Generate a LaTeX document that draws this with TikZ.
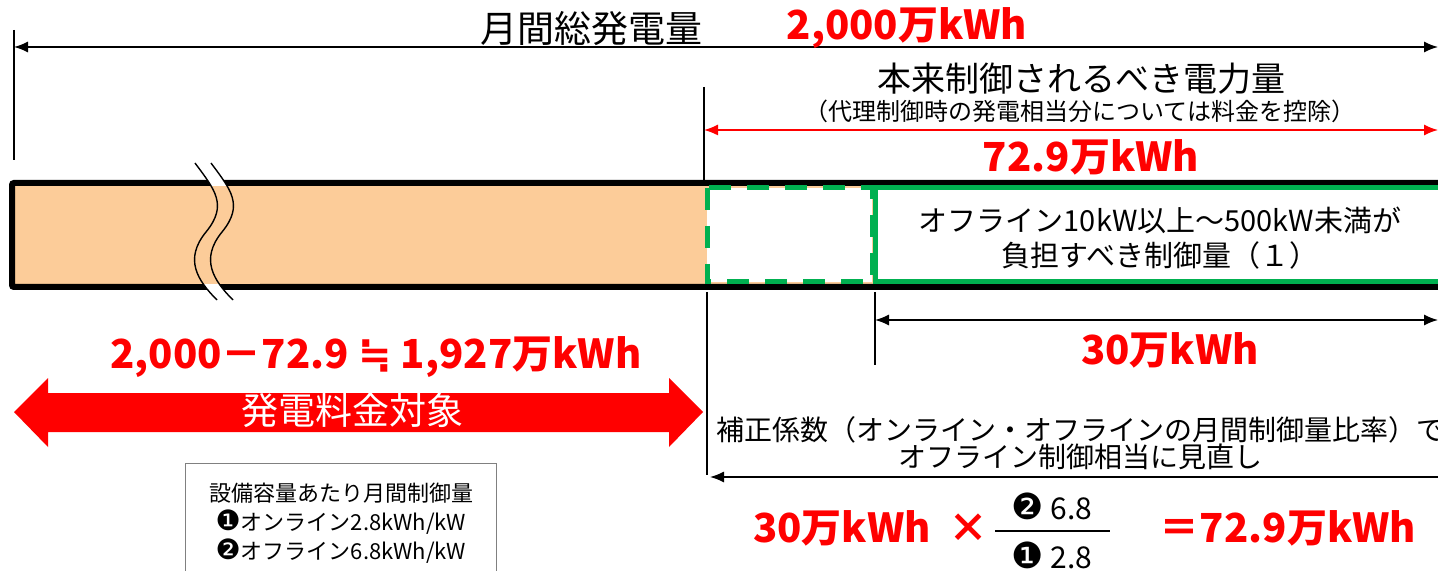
\documentclass[tikz,border=0pt]{standalone}
\usepackage{fontspec}
\setmainfont{Noto Sans CJK JP}
\newfontfamily\dingfont{DejaVu Sans}
\usetikzlibrary{arrows.meta}
\definecolor{peach}{RGB}{252,204,153}
\definecolor{offgreen}{RGB}{0,176,80}
\tikzset{
  dimline/.style={line width=0.7pt},
  tickline/.style={line width=0.6pt},
  redval/.style={text=red,inner sep=0pt,font=\fontsize{20}{24}\selectfont\bfseries},
  lbl/.style={inner sep=0pt},
}
\newcommand\circnum[2]{{\dingfont\fontsize{#1}{#1}\selectfont #2}}
\begin{document}
\begin{tikzpicture}[x=0.5pt,y=-0.5pt,>={Latex[length=7pt,width=5.5pt]}]
\useasboundingbox (0,0) rectangle (1438,571);
% bar with break
\fill[peach] (12,183) rectangle (1460,287);
\draw[line width=3pt,rounded corners=1pt] (1460,183) -- (12,183) -- (12,287) -- (1460,287);
\fill[white] (195,163) .. controls (215,190) and (228,205) .. (206,232)
  .. controls (184,259) and (197,280) .. (217,300) -- (233,300)
  .. controls (213,280) and (200,259) .. (222,232)
  .. controls (244,205) and (231,190) .. (211,163) -- cycle;
\fill[peach] (180,186) rectangle (260,284);
\draw[line width=0.7pt] (195,163) .. controls (215,190) and (228,205) .. (206,232)
  .. controls (184,259) and (197,280) .. (217,300);
\draw[line width=0.7pt] (211,163) .. controls (231,190) and (244,205) .. (222,232)
  .. controls (200,259) and (213,280) .. (233,300);
\draw[offgreen,line width=2.5pt,fill=white,dash pattern=on 11pt off 8pt] (707,188) rectangle (872,282);
\draw[offgreen,line width=2.5pt,fill=white] (875,188) rectangle (1470,282);
\node[lbl,align=center,font=\fontsize{14.5}{17.5}\selectfont] (offtxt) at (1160,238)
  {オフライン10kW以上～500kW未満が\\負担すべき制御量（１）};
% monthly total
\coordinate (totL) at (14,47);
\coordinate (totR) at (1438,47);
\draw[tickline] (14,30) -- (14,160);
\draw[dimline,<->] (totL) -- (totR);
\node[lbl,font=\fontsize{18.5}{20}\selectfont] (total) at (591,29) {月間総発電量};
\node[redval] (totval) at (907,28) {2,000万kWh};
% controlled amount
\coordinate (ctlL) at (704,130);
\coordinate (ctlR) at (1438,130);
\draw[tickline] (704,87) -- (704,180);
\draw[dimline,red,<->] (ctlL) -- (ctlR);
\node[lbl,font=\fontsize{17}{20}\selectfont] (ctl) at (1081,79) {本来制御されるべき電力量};
\node[lbl,font=\fontsize{12}{14}\selectfont] (ctlsub) at (1080,111) {（代理制御時の発電相当分については料金を控除）};
\node[redval] (ctlval) at (1091,157) {72.9万kWh};
% offline share
\coordinate (offL) at (875,320);
\coordinate (offR) at (1438,320);
\draw[tickline] (875,292) -- (875,365);
\draw[dimline,<->] (offL) -- (offR);
\node[redval] (offval) at (1170,350) {30万kWh};
% billed part
\node[redval] (billval) at (376,357) {2,000－72.9 {\dingfont\bfseries ≒} 1,927万kWh};
\fill[red] (14,412) -- (48,378) -- (48,393) -- (669,393) -- (669,378) -- (703,412)
  -- (669,447) -- (669,432) -- (48,432) -- (48,447) -- cycle;
\node[lbl,text=white,font=\fontsize{18.5}{20}\selectfont] (bill) at (352,410) {発電料金対象};
\node[draw=gray,line width=0.6pt,anchor=north,minimum width=155.5pt,minimum height=60pt,
  align=center,font=\fontsize{11}{14.5}\selectfont,inner sep=3pt] (rate) at (341,463)
  {設備容量あたり月間制御量\\\circnum{14}{❶}オンライン2.8kWh/kW\\\circnum{14}{❷}オフライン6.8kWh/kW};
% correction
\coordinate (corrL) at (710,477);
\coordinate (corrR) at (1438,477);
\draw[tickline] (707,292) -- (707,475);
\draw[dimline,<-] (corrL) -- (corrR);
\node[lbl,align=center,font=\fontsize{14}{13.5}\selectfont] (corr) at (1080,443)
  {補正係数（オンライン・オフラインの月間制御量比率）で\\オフライン制御相当に見直し};
\node[redval] (fml) at (842,528) {30万kWh};
\node[redval] (times) at (968,528) {×};
\node[lbl,font=\fontsize{15}{17}\selectfont] (num) at (1052,506) {\circnum{18}{❷} 6.8};
\node[lbl,font=\fontsize{15}{17}\selectfont] (den) at (1052,555) {\circnum{18}{❶} 2.8};
\coordinate (barL) at (995,531);
\coordinate (barR) at (1110,531);
\draw[line width=1pt] (barL) -- (barR);
\node[redval] (res) at (1288,528) {＝72.9万kWh};
\end{tikzpicture}
\end{document}
